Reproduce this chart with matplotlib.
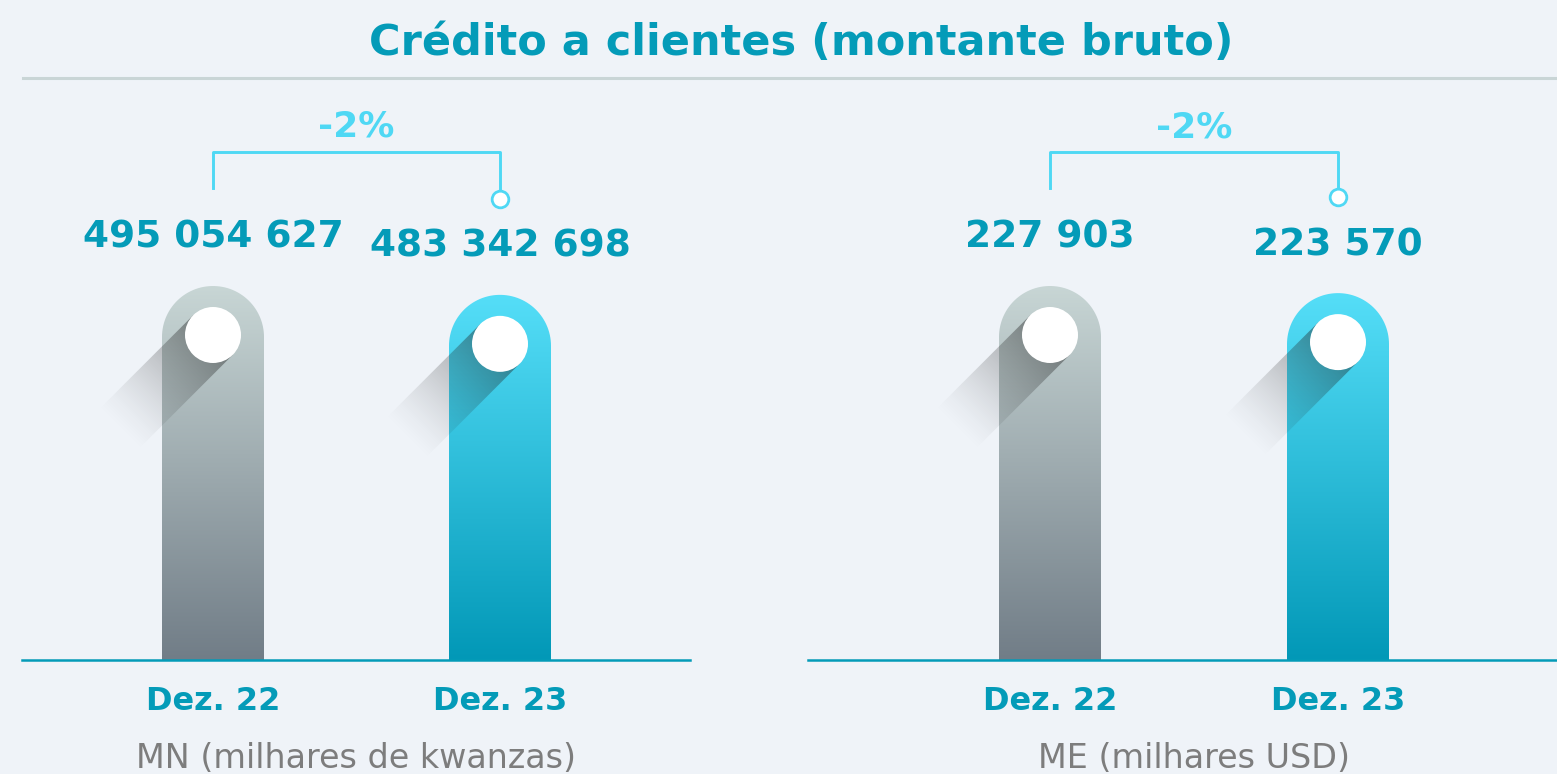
import numpy as np
import matplotlib
matplotlib.use("Agg")
from matplotlib import pyplot as plt
from matplotlib.path import Path
from matplotlib.patches import PathPatch, Circle, Polygon
from matplotlib.colors import LinearSegmentedColormap
from matplotlib.lines import Line2D

W, H, DPI = 1557, 774, 100

title = "Crédito a clientes (montante bruto)"
periods = ["Dez. 22", "Dez. 23"]
mn_values = [495054627, 483342698]
me_values = [227903, 223570]
mn_caption = "MN (milhares de kwanzas)"
me_caption = "ME (milhares USD)"

BG = "#eff3f8"
TEAL = "#049bb8"
CYAN = "#4fd8f4"
GREY_TEXT = "#7d7d7d"
bar_colors = [("#c8d6d5", "#717d87"), ("#55def8", "#0298b7")]

plt.rcParams['font.family'] = ['DejaVu Sans']

BASE_Y = 660      # baseline, px from top
MAX_BAR_PX = 374  # height of the tallest bar
BAR_PX = 102
DOT_R = 28


def fmt(v):
    return f"{v:,}".replace(",", " ")


fig = plt.figure(figsize=(W / DPI, H / DPI), dpi=DPI, facecolor=BG)

fig.text(801 / W, 1 - 43 / H, title, ha="center", va="center",
         fontsize=31, fontweight="bold", color=TEAL)
fig.add_artist(Line2D([23 / W, 1], [1 - 78 / H] * 2, transform=fig.transFigure,
                      color="#c9d5d6", lw=2.2))

# overlay in pixel coords for the dots and their long shadows
over = fig.add_axes([0, 0, 1, 1], zorder=5)
over.set_xlim(0, W)
over.set_ylim(H, 0)
over.axis("off")


def long_shadow(cx, cy, r, length=135, alpha0=0.45):
    d = np.array([-1.0, 1.0]) / np.sqrt(2)
    n = np.array([1.0, 1.0]) / np.sqrt(2)
    c = np.array([cx, cy])
    pts = [c + r * n, c + r * n + length * d, c - r * n + length * d, c - r * n]
    poly = Polygon(pts, closed=True, facecolor="none", edgecolor="none")
    over.add_patch(poly)
    x0, x1 = cx - length, cx + r + 2
    y0, y1 = cy - r - 2, cy + length
    xs = np.arange(x0, x1)
    ys = np.arange(y0, y1)
    X, Y = np.meshgrid(xs, ys)
    t = ((X - cx) * d[0] + (Y - cy) * d[1]) / length
    a = np.clip(1 - t, 0, 1) ** 1.4 * alpha0
    rgba = np.zeros(X.shape + (4,))
    rgba[..., :3] = 0.12
    rgba[..., 3] = a
    im = over.imshow(rgba, extent=(x0, x1, y1, y0), origin="upper",
                     interpolation="bilinear", zorder=1)
    im.set_clip_path(poly)


def draw_panel(left, right, centres, values, caption):
    ax = fig.add_axes([left / W, 1 - BASE_Y / H, (right - left) / W, (BASE_Y - 90) / H])
    ax.set_facecolor("none")
    ax.axis("off")
    ppx = centres[1] - centres[0]
    ax.set_xlim(-(centres[0] - left) / ppx, 1 + (right - centres[1]) / ppx)
    ymax = max(values) * (BASE_Y - 90) / MAX_BAR_PX
    ax.set_ylim(0, ymax)
    ppy = (BASE_Y - 90) / ymax
    ax.axhline(0, color=TEAL, lw=1.8, zorder=3, clip_on=False)

    w = BAR_PX / 2 / ppx
    ry = BAR_PX / 2 / ppy
    t = np.linspace(np.pi, 0, 60)
    tops = []
    for i, (v, (c_top, c_bot)) in enumerate(zip(values, bar_colors)):
        verts = [(i - w, 0), (i - w, v - ry)]
        verts += list(zip(i + w * np.cos(t), v - ry + ry * np.sin(t)))
        verts += [(i + w, 0), (i - w, 0)]
        patch = PathPatch(Path(verts, closed=True), facecolor="none", edgecolor="none")
        ax.add_patch(patch)
        cmap = LinearSegmentedColormap.from_list(f"bar{i}", [c_bot, c_top])
        im = ax.imshow(np.linspace(0, 1, 256).reshape(-1, 1), cmap=cmap, origin="lower",
                       extent=(i - w, i + w, 0, v), aspect="auto", zorder=2)
        im.set_clip_path(patch)

        ax.annotate(fmt(v), (i, v), xytext=(0, 48), textcoords="offset pixels",
                    ha="center", va="center", fontsize=27, fontweight="bold",
                    color=TEAL, annotation_clip=False)
        ax.annotate(periods[i], (i, 0), xytext=(0, -41), textcoords="offset pixels",
                    ha="center", va="center", fontsize=23, fontweight="bold",
                    color=TEAL, annotation_clip=False)

        px, py = ax.transData.transform((i, v))
        cx, cy = px, H - py + 49
        long_shadow(cx, cy, DOT_R)
        over.add_patch(Circle((cx, cy), DOT_R, facecolor="white", edgecolor="none", zorder=3))
        tops.append(v)

    ax.annotate(caption, (0.5, 0), xytext=(0, -99), textcoords="offset pixels",
                ha="center", va="center", fontsize=24, color=GREY_TEXT,
                annotation_clip=False)

    # change bracket between the two periods
    yb = max(tops) + 134 / ppy
    ax.plot([0, 0, 1, 1], [tops[0] + 98 / ppy, yb, yb, tops[1] + 104 / ppy],
            color=CYAN, lw=2.1, clip_on=False, zorder=3)
    ax.plot([1], [tops[1] + 96 / ppy], marker="o", ms=12, mfc="white", mec=CYAN,
            mew=2.0, clip_on=False, zorder=4)
    pct = round((values[1] / values[0] - 1) * 100)
    ax.annotate(f"{pct}%", (0.5, yb), xytext=(0, 25), textcoords="offset pixels",
                ha="center", va="center", fontsize=26, fontweight="bold",
                color=CYAN, annotation_clip=False)
    return ax


draw_panel(22, 690, (213, 500), mn_values, mn_caption)
draw_panel(808, W, (1050, 1338), me_values, me_caption)

fig.savefig("out.png", dpi=DPI, facecolor=BG)
